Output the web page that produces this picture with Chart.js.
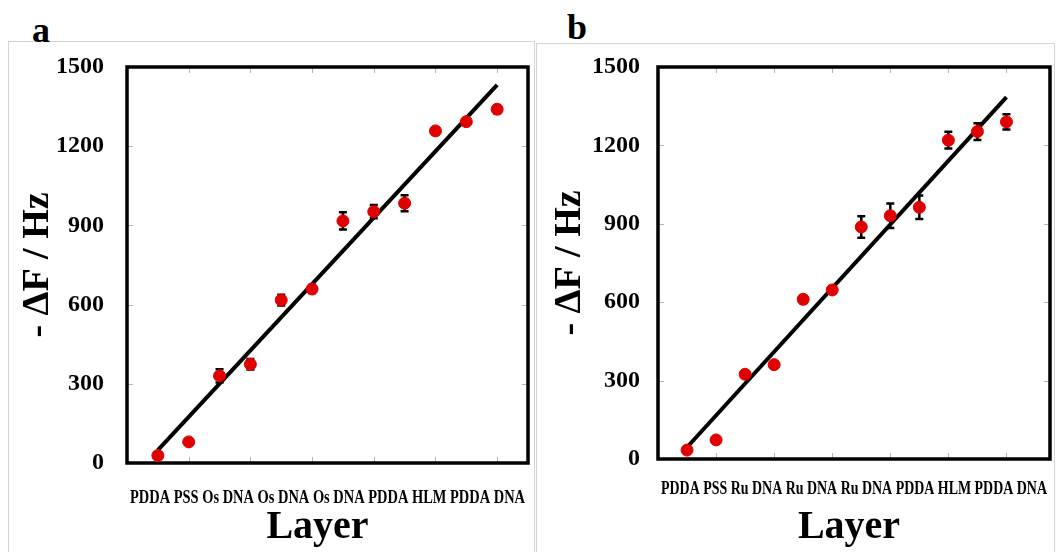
<!DOCTYPE html>
<html>
<head>
<meta charset="utf-8">
<script src="https://cdn.jsdelivr.net/npm/chart.js@4.4.1/dist/chart.umd.min.js"></script>
<style>
  body { margin: 0; background: #fff; width: 1057px; height: 552px; overflow: hidden; position: relative; font-family: 'Liberation Serif', 'Times New Roman', serif; }
  .frame { position: absolute; border: 1px solid #d4d4d4; height: 560px; }
  .tag { position: absolute; font-weight: bold; font-size: 36px; line-height: 36px; color: #000; }
  .box { position: absolute; top: 0; height: 552px; }
</style>
</head>
<body>
<div class="frame" style="left:8px; top:41px; width:525px;"></div>
<div class="frame" style="left:536px; top:43px; width:517px;"></div>
<div class="tag" style="left:32px; top:12px;">a</div>
<div class="tag" style="left:567px; top:9px;">b</div>
<div class="box" style="left:0; width:535px;"><canvas id="chartA"></canvas></div>
<div class="box" style="left:535px; width:522px;"><canvas id="chartB"></canvas></div>
<script>
// layer sequence for each film
const layersA = ['PDDA', 'PSS', 'Os', 'DNA', 'Os', 'DNA', 'Os', 'DNA', 'PDDA', 'HLM', 'PDDA', 'DNA'];
const layersB = ['PDDA', 'PSS', 'Ru', 'DNA', 'Ru', 'DNA', 'Ru', 'DNA', 'PDDA', 'HLM', 'PDDA', 'DNA'];

// -dF (Hz) and error bars
const freqA = [28, 80, 330, 374, 617, 659, 917, 952, 984, 1258, 1293, 1340];
const errA = [0, 0, 25, 20, 20, 15, 33, 25, 30, 0, 8, 15];
const freqB = [34, 73, 324, 361, 611, 647, 888, 931, 963, 1220, 1253, 1290];
const errB = [0, 0, 0, 0, 15, 10, 41, 47, 45, 32, 32, 29];

// linear fit end points (layer 1 and layer 12)
const fitX = [1, 12];
const fitA = [49, 1432];
const fitB = [45, 1385];

const yTicks = [0, 300, 600, 900, 1200, 1500];
const xMarks = [2, 4, 6, 8, 10, 12];

const serif = "'Liberation Serif', 'Times New Roman', serif";

// error bars drawn just before the points so the dots sit on top
const errorBars = {
    id: 'errorBars',
    beforeDatasetDraw(chart, args, opts) {
        if (args.index !== 1) return;
        const { ctx, scales: { x, y } } = chart;
        const vals = opts.values, errs = opts.errors;
        ctx.save();
        ctx.strokeStyle = '#000';
        ctx.lineWidth = 2.5;
        vals.forEach((v, i) => {
            if (!errs[i]) return;
            const px = x.getPixelForValue(i + 1);
            const top = y.getPixelForValue(v + errs[i]);
            const bot = y.getPixelForValue(v - errs[i]);
            ctx.beginPath();
            ctx.moveTo(px, top); ctx.lineTo(px, bot);
            ctx.moveTo(px - 4, top); ctx.lineTo(px + 4, top);
            ctx.moveTo(px - 4, bot); ctx.lineTo(px + 4, bot);
            ctx.stroke();
        });
        ctx.restore();
    }
};

// plot frame with small inward tick marks
const frameBox = {
    id: 'frameBox',
    beforeDatasetsDraw(chart) {
        const { ctx, chartArea: a, scales: { x, y } } = chart;
        ctx.save();
        ctx.strokeStyle = '#b5b5b5';
        ctx.lineWidth = 1;
        ctx.beginPath();
        xMarks.forEach(v => {
            const px = Math.round(x.getPixelForValue(v)) + 0.5;
            ctx.moveTo(px, a.top); ctx.lineTo(px, a.top + 6);
            ctx.moveTo(px, a.bottom); ctx.lineTo(px, a.bottom - 6);
        });
        yTicks.slice(1, -1).forEach(v => {
            const py = Math.round(y.getPixelForValue(v)) + 0.5;
            ctx.moveTo(a.left, py); ctx.lineTo(a.left + 6, py);
            ctx.moveTo(a.right, py); ctx.lineTo(a.right - 6, py);
        });
        ctx.stroke();
        ctx.strokeStyle = '#000';
        ctx.lineWidth = 3.5;
        ctx.strokeRect(a.left, a.top, a.right - a.left, a.bottom - a.top);
        ctx.restore();
    },
    // the layer row is drawn after the datasets (ticks.z = 1):
    // squeeze it to the plot width like the condensed text of the figure
    afterDatasetsDraw(chart) {
        const ctx = chart.ctx;
        const w = chart.chartArea.right - chart.chartArea.left - 6;
        const fill = ctx.fillText;
        ctx.fillText = function (t, x, y) { return fill.call(ctx, t, x, y, w); };
    },
    afterDraw(chart) {
        delete chart.ctx.fillText;
    }
};

function makePanel(id, labels, values, errors, fit, geo) {
    const points = values.map((v, i) => ({ x: i + 1, y: v }));
    const line = fitX.map((v, i) => ({ x: v, y: fit[i] }));
    return new Chart(document.getElementById(id), {
        type: 'scatter',
        data: {
            datasets: [
                {
                    type: 'line',
                    data: line,
                    borderColor: '#000',
                    borderWidth: 4,
                    pointRadius: 0,
                    fill: false,
                    order: 2
                },
                {
                    data: points,
                    backgroundColor: '#e00000',
                    borderColor: '#e00000',
                    pointRadius: 6,
                    pointHoverRadius: 6,
                    order: 1
                }
            ]
        },
        options: {
            responsive: true,
            maintainAspectRatio: false,
            animation: false,
            layout: { padding: geo.padding },
            plugins: {
                legend: { display: false },
                tooltip: { enabled: false },
                errorBars: { values: values, errors: errors }
            },
            scales: {
                x: {
                    type: 'linear',
                    min: 0,
                    max: geo.xMax,
                    grid: { display: false },
                    border: { display: false },
                    // the figure writes the layer sequence as one row of text under the axis
                    afterBuildTicks: s => { s.ticks = [{ value: (s.min + s.max) / 2 }]; },
                    afterFit: s => { s.height = geo.xHeight; s.paddingLeft = 0; s.paddingRight = 0; },
                    ticks: {
                        autoSkip: false,
                        maxRotation: 0,
                        padding: geo.xPad,
                        color: '#000',
                        z: 1,
                        font: { family: serif, size: 19, weight: 'bold' },
                        callback: () => labels.join(' ')
                    },
                    title: {
                        display: true,
                        text: geo.xTitle,
                        color: '#000',
                        padding: { top: 0, bottom: 0 },
                        font: { family: serif, size: 40, weight: 'bold' }
                    }
                },
                y: {
                    min: 0,
                    max: 1500,
                    grid: { display: false },
                    border: { display: false },
                    afterBuildTicks: s => { s.ticks = yTicks.map(v => ({ value: v })); },
                    afterFit: s => { s.width = geo.yWidth; s.paddingTop = 0; s.paddingBottom = 0; },
                    ticks: {
                        padding: geo.yPad,
                        color: '#000',
                        font: { family: serif, size: 24, weight: 'bold' },
                        callback: v => String(v)
                    },
                    title: {
                        display: true,
                        text: '- ΔF / Hz',
                        color: '#000',
                        padding: { top: geo.titlePad, bottom: 0 },
                        font: { family: serif, size: 38, weight: 'bold' }
                    }
                }
            }
        },
        plugins: [errorBars, frameBox]
    });
}

// trailing spaces nudge the centred axis title left, as in the figure
makePanel('chartA', layersA, freqA, errA, fitA, {
    xMax: 13, padding: { top: 67, right: 5, bottom: 0, left: 0 },
    yWidth: 127, xHeight: 89, xPad: 16, yPad: 15, titlePad: 15, xTitle: 'Layer  '
});
makePanel('chartB', layersB, freqB, errB, fitB, {
    xMax: 13.5, padding: { top: 67, right: 7, bottom: 0, left: 0 },
    yWidth: 123, xHeight: 93, xPad: 11, yPad: 10, titlePad: 12, xTitle: 'Layer '
});
</script>
</body>
</html>
